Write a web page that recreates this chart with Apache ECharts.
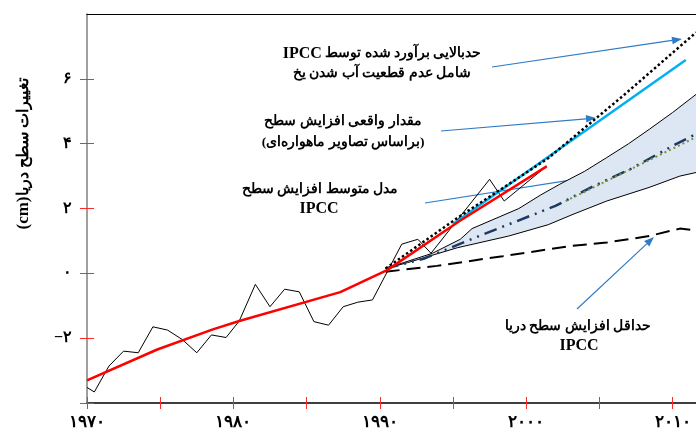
<!DOCTYPE html>
<html>
<head>
<meta charset="utf-8">
<script src="https://cdn.jsdelivr.net/npm/echarts@6/dist/echarts.min.js"></script>
<style>html,body{margin:0;padding:0;background:#fff;overflow:hidden}#c{width:696px;height:435px}</style>
</head>
<body>
<div id="c"></div>
<script>
// ---- data (years, cm) ----
const obsYears = [1970, 1970.5, 1971.5, 1972.5, 1973.5, 1974.5, 1975.5, 1976.5, 1977.5, 1978.5, 1979.5, 1980.4, 1981.5, 1982.5, 1983.5, 1984.5, 1985.5, 1986.5, 1987.5, 1988.5, 1989.5, 1991.5, 1992.6, 1993.5, 1997.5, 1998.5, 2001.4];
const obsValues = [-3.52, -3.66, -2.86, -2.40, -2.45, -1.65, -1.75, -2.04, -2.45, -1.90, -1.98, -1.47, -0.34, -1.03, -0.49, -0.57, -1.49, -1.60, -1.03, -0.89, -0.82, 0.90, 1.05, 0.62, 2.90, 2.23, 3.31];

const trendYears = [1970, 1974.8, 1978.6, 1980.4, 1987.3, 1990.5, 1995.4, 2001.4];
const trendValues = [-3.30, -2.35, -1.73, -1.47, -0.58, 0.10, 1.60, 3.30];

const satYears = [1995, 2010.9];
const satValues = [1.52, 6.58];

const ipccHighYears = [1990.4, 1995.5, 2001.5, 2006.6, 2011.6];
const ipccHighValues = [0.15, 1.77, 3.55, 5.47, 7.43];

const bandUpYears = [1990.4, 1993.6, 1995.5, 1996.3, 1999.5, 2001, 2002.3, 2004, 2005.5, 2007, 2008.4, 2010, 2011.6];
const bandUpValues = [0.15, 0.62, 1.05, 1.38, 2.00, 2.42, 2.75, 3.15, 3.57, 4.00, 4.44, 4.96, 5.52];
const bandLowYears = [1990.4, 1991.9, 1995.3, 1998.8, 2001.5, 2003.2, 2005.5, 2008.4, 2010.5, 2011.6];
const bandLowValues = [0.15, 0.33, 0.79, 1.15, 1.50, 1.82, 2.23, 2.65, 3.00, 3.11];

const ipccMeanYears = [1990.4, 1993, 1996.5, 2002, 2004.6, 2007.1, 2010, 2011.6];
const ipccMeanValues = [0.15, 0.45, 1.10, 2.08, 2.69, 3.21, 3.93, 4.30];

const greenYears = [2002.7, 2011.6];
const greenValues = [2.23, 4.20];

const ipccLowYears = [1990.4, 1993.9, 1998.4, 2003, 2005.5, 2008.4, 2010.5, 2011.6];
const ipccLowValues = [0.05, 0.23, 0.53, 0.84, 0.95, 1.15, 1.38, 1.33];

const xTickValues = [1970, 1975, 1980, 1985, 1990, 1995, 2000, 2005, 2010];
const xLabelValues = [1970, 1980, 1990, 2000, 2010];
const yTickValues = [-4, -2, 0, 2, 4, 6];
const yLabelValues = [-2, 0, 2, 4, 6];

const yAxisTitle = ['(cm)', 'تغییرات سطح دریا'];
// ---------------------------

const fa = n => String(n).replace(/-/g, '−').replace(/\d/g, d => '۰۱۲۳۴۵۶۷۸۹'[d]);
const zip = (xs, ys) => xs.map((x, i) => [x, ys[i]]);

const PF = 'Liberation Serif';
const LF = 'Liberation Serif';
const RED = '#ff2a2a';
const ARROW = '#2e7cc4';

function arrow(x1, y1, x2, y2) {
  const a = Math.atan2(y2 - y1, x2 - x1), L = 10, W = 3.8;
  const bx = x2 - L * Math.cos(a), by = y2 - L * Math.sin(a);
  const px = -Math.sin(a) * W, py = Math.cos(a) * W;
  return {
    type: 'group', silent: true, children: [
      { type: 'line', shape: { x1, y1, x2: bx, y2: by }, style: { stroke: ARROW, lineWidth: 1.2 } },
      { type: 'polygon', shape: { points: [[x2, y2], [bx + px, by + py], [bx - px, by - py]] }, style: { fill: ARROW } }
    ]
  };
}
function label(x, y, text, rich) {
  return { type: 'text', x, y, silent: true, style: { text, align: 'center', verticalAlign: 'middle', rich } };
}
const rich = {
  p: { fontFamily: PF, fontWeight: 'bold', fontSize: 13.5, fill: '#000' },
  l: { fontFamily: LF, fontWeight: 'bold', fontSize: 16, fill: '#000' }
};

const chart = echarts.init(document.getElementById('c'), null, { renderer: 'canvas' });

const lineS = (name, xs, ys, color, width, type, z) => ({
  name, type: 'line', data: zip(xs, ys), showSymbol: false, symbol: 'none', z,
  lineStyle: { color, width, type, cap: 'butt' }, animation: false, silent: true
});

chart.setOption({
  animation: false,
  grid: { left: 87, top: 14, right: 0, bottom: 32 },
  xAxis: [
    {
      type: 'value', min: 1970, max: 2011.6, position: 'bottom',
      axisLine: { onZero: false, lineStyle: { color: '#000', width: 1.5 } },
      axisTick: { show: true, length: 6, customValues: xTickValues, lineStyle: { color: RED, width: 1 } },
      axisLabel: { customValues: xLabelValues, formatter: v => (v % 10 === 0 ? fa(v) : ''), margin: 11,
        fontFamily: PF, fontWeight: 'bold', fontSize: 17, color: '#000' },
      splitLine: { show: false }
    },
    {
      type: 'value', min: 1970, max: 2011.6, position: 'bottom',
      axisLine: { show: false, onZero: false },
      axisTick: { show: true, inside: true, length: 6, customValues: xTickValues, lineStyle: { color: RED, width: 1 } },
      axisLabel: { show: false }, splitLine: { show: false }
    },
    {
      type: 'value', min: 1970, max: 2011.6, position: 'top',
      axisLine: { show: true, onZero: false, lineStyle: { color: '#000', width: 1.2 } },
      axisTick: { show: false }, axisLabel: { show: false }, splitLine: { show: false }
    }
  ],
  yAxis: [
    {
      type: 'value', min: -4, max: 8, interval: 2, position: 'left',
      axisLine: { show: true, onZero: false, lineStyle: { color: '#7f7f7f', width: 1.5 } },
      axisTick: { show: true, length: 7, customValues: yTickValues, lineStyle: { color: RED, width: 1 } },
      axisLabel: { customValues: yLabelValues, formatter: v => (v >= -2 && v <= 6 ? fa(v) : ''), margin: 15,
        fontFamily: PF, fontWeight: 'bold', fontSize: 16, color: '#000' },
      splitLine: { show: false }
    },
    {
      type: 'value', min: -4, max: 8, interval: 2, position: 'left',
      axisLine: { show: false, onZero: false },
      axisTick: { show: true, inside: true, length: 7, customValues: yTickValues, lineStyle: { color: RED, width: 1 } },
      axisLabel: { show: false }, splitLine: { show: false }
    }
  ],
  series: [
    {
      type: 'custom', name: 'band', data: [[1990.4, 0.15]], z: 1, silent: true,
      renderItem: (params, api) => {
        const up = zip(bandUpYears, bandUpValues).map(p => api.coord(p));
        const lo = zip(bandLowYears, bandLowValues).map(p => api.coord(p)).reverse();
        return { type: 'polygon', shape: { points: up.concat(lo) }, style: { fill: '#dde7f3' } };
      }
    },
    lineS('bandUp', bandUpYears, bandUpValues, '#000', 1, 'solid', 2),
    lineS('bandLow', bandLowYears, bandLowValues, '#000', 1, 'solid', 2),
    lineS('ipccLow', ipccLowYears, ipccLowValues, '#000', 2, [14, 7], 3),
    lineS('ipccMean', ipccMeanYears, ipccMeanValues, '#1f3864', 2.5, [13, 6, 2, 6, 2, 6], 3),
    lineS('green', greenYears, greenValues, '#77933c', 2, [2, 3], 4),
    lineS('obs', obsYears, obsValues, '#000', 1, 'solid', 5),
    lineS('sat', satYears, satValues, '#00b0f0', 2.5, 'solid', 6),
    lineS('ipccHigh', ipccHighYears, ipccHighValues, '#000', 2.5, [2.5, 2.5], 7),
    lineS('trend', trendYears, trendValues, '#ff0000', 2.5, 'solid', 8)
  ],
  graphic: [
    {
      type: 'text', x: 24, y: 154, rotation: Math.PI / 2, silent: true,
      style: {
        text: '{l|' + yAxisTitle[0] + '}{p|' + yAxisTitle[1] + '}', align: 'center', verticalAlign: 'middle',
        rich: { p: { fontFamily: PF, fontWeight: 'bold', fontSize: 16, fill: '#000' }, l: { fontFamily: LF, fontWeight: 'bold', fontSize: 17, fill: '#000' } }
      }
    },
    label(382, 54, '{l|IPCC} {p|حدبالایی برآورد شده توسط}', rich),
    label(382, 74, '{p|شامل عدم قطعیت آب شدن یخ}', rich),
    label(343, 122, '{p|مقدار واقعی افزایش سطح}', rich),
    label(343, 143, '{p|(براساس تصاویر ماهواره‌ای)}', rich),
    label(320, 190, '{p|مدل متوسط افزایش سطح}', rich),
    label(319, 209, '{l|IPCC}', rich),
    label(578, 327, '{p|حداقل افزایش سطح دریا}', rich),
    label(579, 346, '{l|IPCC}', rich),
    arrow(492, 67, 682, 39),
    arrow(441, 131, 596, 118),
    arrow(425, 203, 596, 176),
    arrow(577, 309, 654, 237)
  ]
});
</script>
</body>
</html>
